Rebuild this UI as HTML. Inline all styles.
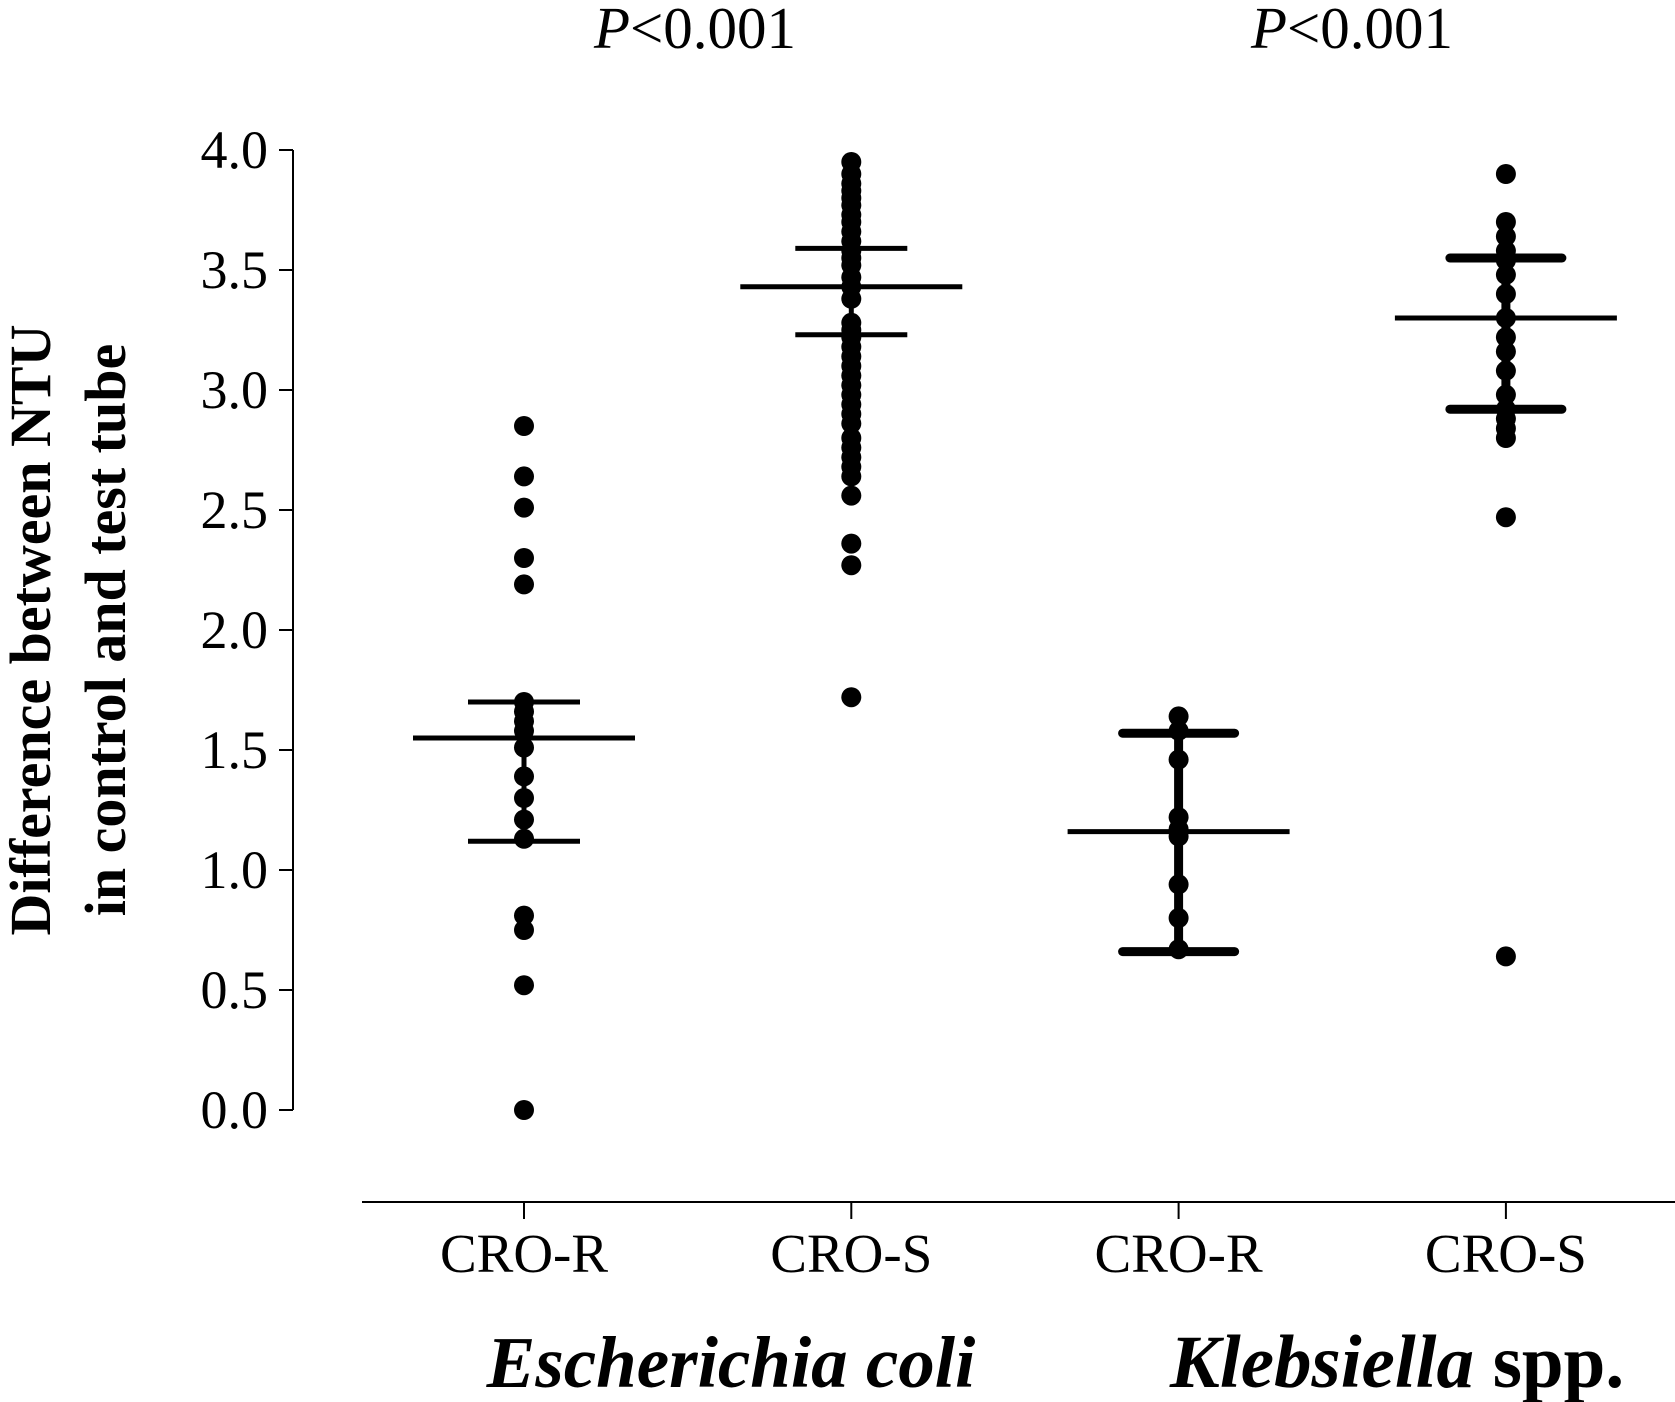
<!DOCTYPE html>
<html><head><meta charset="utf-8"><style>
html,body{margin:0;padding:0;background:#fff;}
svg{display:block;}
text{font-family:"Liberation Serif",serif;fill:#000;}
</style></head><body>
<svg id="chart" width="1675" height="1402" viewBox="0 0 1675 1402" xmlns="http://www.w3.org/2000/svg">
<g id="axes"></g>
<g id="marks"></g>
<text transform="translate(50,630) rotate(-90)" text-anchor="middle" font-size="58" font-weight="bold">Difference between NTU</text>
<text transform="translate(125,630) rotate(-90)" text-anchor="middle" font-size="58" font-weight="bold">in control and test tube</text>
<text x="731" y="1387" text-anchor="middle" font-size="73" font-weight="bold" font-style="italic">Escherichia coli</text>
<text x="1397" y="1387" text-anchor="middle" font-size="75" font-weight="bold"><tspan font-style="italic">Klebsiella</tspan> spp.</text>
<text x="695" y="48" text-anchor="middle" font-size="59"><tspan font-style="italic">P</tspan>&lt;0.001</text>
<text x="1352" y="48" text-anchor="middle" font-size="59"><tspan font-style="italic">P</tspan>&lt;0.001</text>
</svg>
<script>
const categories = ["CRO-R","CRO-S","CRO-R","CRO-S"];
const yTicks = [0,0.5,1,1.5,2,2.5,3,3.5,4];
const yTickLabels = ["0.0","0.5","1.0","1.5","2.0","2.5","3.0","3.5","4.0"];
const ecoliR = [2.85,2.64,2.51,2.30,2.19,1.70,1.66,1.62,1.58,1.51,1.39,1.30,1.21,1.13,0.81,0.75,0.52,0.0];
const ecoliS = [3.95,3.90,3.86,3.83,3.80,3.77,3.73,3.70,3.66,3.62,3.58,3.55,3.52,3.47,3.43,3.38,3.28,3.25,3.22,3.18,3.14,3.10,3.06,3.02,2.98,2.94,2.90,2.86,2.80,2.76,2.72,2.68,2.64,2.56,2.36,2.27,1.72];
const klebR = [1.64,1.58,1.46,1.22,1.17,1.14,0.94,0.80,0.67];
const klebS = [3.90,3.70,3.64,3.58,3.54,3.48,3.40,3.30,3.22,3.16,3.08,2.98,2.92,2.88,2.84,2.80,2.47,0.64];
const medians = [1.55,3.43,1.16,3.30];
const upperQ = [1.70,3.59,1.57,3.55];
const lowerQ = [1.12,3.23,0.66,2.92];

const NS="http://www.w3.org/2000/svg";
const yScale = v => 1110 - v*240;
const xScale = i => 524 + i*327.3;
function mk(tag, attrs, parent){const e=document.createElementNS(NS,tag);for(const k in attrs)e.setAttribute(k,attrs[k]);parent.appendChild(e);return e;}
const axes=document.getElementById('axes'), marks=document.getElementById('marks');

let yl=mk('line',{x1:293,x2:293,y1:yScale(4),y2:yScale(0),stroke:'#000','stroke-width':2},axes);


yTicks.forEach((t,i)=>{
  const y=yScale(t);
  const tk=mk('line',{x1:279,x2:293,y1:y,y2:y,stroke:'#000','stroke-width':2},axes);
  
  
  const tx=mk('text',{x:268,y:y+18,'text-anchor':'end','font-size':54},axes);
  tx.textContent=yTickLabels[i];
  
  
});
let xl=mk('line',{x1:362,x2:1675,y1:1202,y2:1202,stroke:'#000','stroke-width':2},axes);


categories.forEach((c,i)=>{
  const x=xScale(i);
  const tk=mk('line',{x1:x,x2:x,y1:1202,y2:1219,stroke:'#000','stroke-width':2},axes);
  
  
  const tx=mk('text',{x:x,y:1272,'text-anchor':'middle','font-size':55},axes);
  tx.textContent=c;
  
  
});

const groups=[ecoliR,ecoliS,klebR,klebS];
groups.forEach((g,i)=>{
  const x=xScale(i);
  const wb=(i>=2)?9:5;
  const vb=mk('line',{x1:x,x2:x,y1:yScale(upperQ[i]),y2:yScale(lowerQ[i]),stroke:'#000','stroke-width':wb},marks);
  
  
  g.forEach(v=>{
    const c=mk('circle',{cx:x,cy:yScale(v),r:10,fill:'#000'},marks);
    
    
  });
  const m=mk('line',{x1:x-111,x2:x+111,y1:yScale(medians[i]),y2:yScale(medians[i]),stroke:'#000','stroke-width':5},marks);
  
  
  [upperQ[i],lowerQ[i]].forEach(q=>{
    const w=mk('line',{x1:x-56,x2:x+56,y1:yScale(q),y2:yScale(q),stroke:'#000','stroke-width':wb,'stroke-linecap':(i>=2?'round':'butt')},marks);
    
    
  });
});
</script>
</body></html>
